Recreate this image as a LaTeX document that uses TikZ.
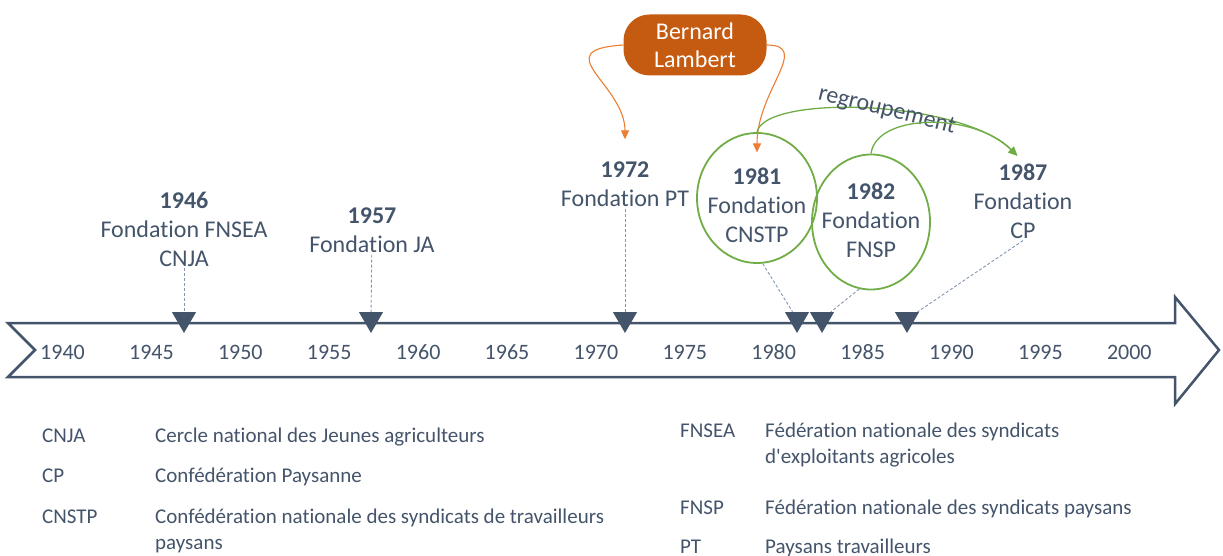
\documentclass[tikz,border=0pt]{standalone}
\usepackage{fontspec}
\setmainfont{Carlito}[Ligatures=NoCommon]
\usetikzlibrary{arrows.meta, positioning, shapes.geometric}
\definecolor{slate}{HTML}{44546A}
\definecolor{dashblue}{HTML}{8497B0}
\definecolor{leafgreen}{HTML}{70AD47}
\definecolor{rust}{HTML}{C55A11}
\definecolor{tangerine}{HTML}{ED7D31}

\begin{document}
\begin{tikzpicture}[x=1pt, y=-1pt,
  event/.style={align=center, text=slate, font=\fontsize{24}{29}\selectfont, inner sep=2pt},
  yrlabel/.style={text=slate, font=\fontsize{22}{26}\selectfont},
  yrmark/.style={regular polygon, regular polygon sides=3, shape border rotate=180, fill=slate, minimum size=28pt, inner sep=0pt},
  ring/.style={ellipse, draw=leafgreen, line width=1.8pt, inner sep=0pt},
  person/.style={rectangle, rounded corners=26pt, fill=rust, text=white, align=center, font=\fontsize{24}{28}\selectfont, minimum width=143pt, minimum height=61pt},
  legend/.style={text=slate, font=\fontsize{21}{26}\selectfont, anchor=base west, align=left, inner sep=0pt},
  axisline/.style={draw=slate, line width=2.5pt, fill=white},
  dashline/.style={draw=dashblue, dash pattern=on 3pt off 2pt, line width=0.9pt},
  orangearr/.style={draw=tangerine, line width=1.1pt, -{Triangle[length=9pt, width=8pt]}},
  greenarr/.style={draw=leafgreen, line width=1.3pt, -{Triangle[length=9pt, width=8pt]}}
]
  \useasboundingbox (0,0) rectangle (1223,556);

  % timeline arrow
  \draw[axisline] (8,323) -- (1175,323) -- (1175,297) -- (1219,350) -- (1175,404)
    -- (1175,377) -- (8,377) -- (35,350) -- cycle;
  \foreach \yr [count=\i from 0] in {1940,1945,...,2000}
    \node[yrlabel] (y\yr) at (62.5+88.9*\i,352) {\yr};

  % markers
  \foreach \nm/\x in {46/184, 57/371, 72/625, 81/797, 82/822, 87/907}
    \node[yrmark] (m\nm) at (\x,319) {};

  % events
  \node[event] (l46) at (184,229) {\textbf{1946}\\Fondation FNSEA\\CNJA};
  \node[event] (l57) at (372,230) {\textbf{1957}\\Fondation JA};
  \node[event] (l72) at (625,184) {\textbf{1972}\\Fondation PT};
  \node[ring, minimum width=120pt, minimum height=130pt] (c81) at (757,198) {};
  \node[event] (l81) at (757,205) {\textbf{1981}\\Fondation\\CNSTP};
  \node[ring, minimum width=118pt, minimum height=135pt] (c82) at (871,222) {};
  \node[event] (l82) at (871,220) {\textbf{1982}\\Fondation\\FNSP};
  \node[event] (l87) at (1023,201) {\textbf{1987}\\Fondation\\CP};
  \node[person] (bl) at (695,45) {Bernard\\Lambert};

  \draw[dashline] (l46) -- (m46);
  \draw[dashline] (l57) -- (m57);
  \draw[dashline] (l72) -- (m72);
  \draw[dashline] (c81.-85) -- (m81);
  \draw[dashline] (c82.-100) -- (m82);
  \draw[dashline] (l87.south) -- (m87);

  \draw[orangearr, shorten >=20pt] (bl.west) .. controls +(-78,5) and +(0,-75) .. (l72.north);
  \draw[orangearr, shorten >=13pt] (bl.east) .. controls +(45,0) and +(0,-75) .. (l81.north);
  \draw[greenarr, shorten >=8pt] (c81.north) .. controls +(8,-38) and +(-63,-62) .. (l87.north)
    node[pos=0.55, rotate=-14, text=slate, font=\fontsize{24}{29}\selectfont] {regroupement};
  \draw[greenarr, shorten >=8pt] (c82.north) .. controls +(5,-40) and +(-50,-50) .. (l87.north);

  % legend
  \node[legend] (a1) at (42,442) {CNJA};
  \node[legend] (d1) at (155,442) {Cercle national des Jeunes agriculteurs};
  \node[legend] (a2) at (42,482) {CP};
  \node[legend] (d2) at (155,482) {Confédération Paysanne};
  \node[legend] (a3) at (42,523) {CNSTP};
  \node[legend] (d3) at (155,549) {Confédération nationale des syndicats de travailleurs\\paysans};
  \node[legend] (a4) at (680,437) {FNSEA};
  \node[legend] (d4) at (765,463) {Fédération nationale des syndicats\\d\textquotesingle exploitants agricoles};
  \node[legend] (a5) at (680,514) {FNSP};
  \node[legend] (d5) at (765,514) {Fédération nationale des syndicats paysans};
  \node[legend] (a6) at (680,553) {PT};
  \node[legend] (d6) at (765,553) {Paysans travailleurs};
\end{tikzpicture}
\end{document}
